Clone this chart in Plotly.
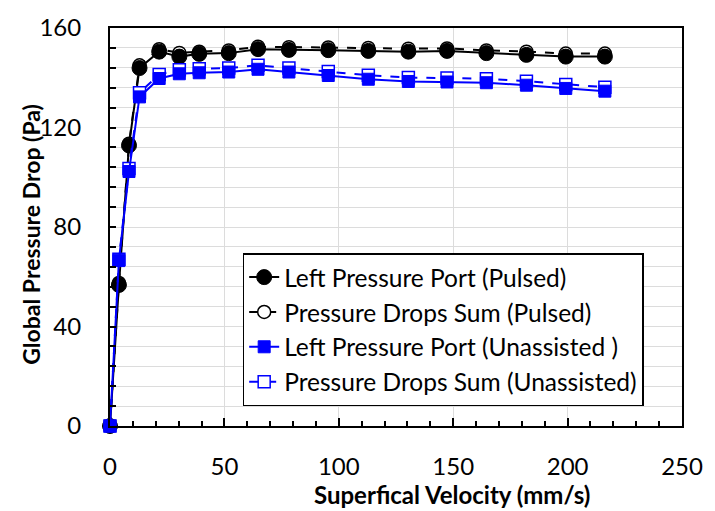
import plotly.graph_objects as go

velocity = [0, 3.9, 8.3, 12.9, 21.5, 30.3, 39.0, 51.9, 64.7, 78.2, 95.4, 112.9, 130.4, 147.3, 164.5, 182.0, 199.2, 216.3]
left_pulsed = [0, 56.7, 112.8, 143.9, 150.5, 148.5, 149.6, 149.9, 151.5, 151.2, 151.1, 150.8, 150.5, 150.8, 149.9, 149.2, 148.5, 148.5]
sum_pulsed = [0, 57.5, 113.5, 145.0, 151.5, 150.0, 150.5, 151.0, 152.5, 152.3, 152.2, 152.0, 151.7, 151.8, 151.0, 150.5, 149.7, 149.7]
left_unassisted = [0, 66.5, 102.3, 132.3, 139.7, 141.6, 142.0, 142.3, 143.4, 142.3, 140.9, 139.4, 138.5, 138.3, 138.0, 137.0, 135.7, 134.6]
sum_unassisted = [0, 67.0, 103.5, 134.0, 141.3, 143.2, 143.6, 143.9, 145.0, 143.9, 142.5, 141.0, 140.1, 139.9, 139.6, 138.6, 137.3, 136.2]

names = ["Left Pressure Port (Pulsed)", "Pressure Drops Sum (Pulsed)",
         "Left Pressure Port (Unassisted )", "Pressure Drops Sum (Unassisted)"]

FONT = "Lato"
BLUE = "#0000FF"
GRID = "#DCDCDC"

fig = go.Figure()
# draw "sum" traces first so the filled markers sit on top
fig.add_trace(go.Scatter(x=velocity, y=sum_pulsed, name=names[1], legendrank=2,
                         mode="lines+markers", cliponaxis=False,
                         line=dict(color="black", width=2, dash="dash"),
                         marker=dict(symbol="circle", size=13, color="white",
                                     line=dict(color="black", width=1.5))))
fig.add_trace(go.Scatter(x=velocity, y=left_pulsed, name=names[0], legendrank=1,
                         mode="lines+markers", cliponaxis=False,
                         line=dict(color="black", width=2),
                         marker=dict(symbol="circle", size=15, color="black",
                                     line=dict(color="black", width=1))))
fig.add_trace(go.Scatter(x=velocity, y=sum_unassisted, name=names[3], legendrank=4,
                         mode="lines+markers", cliponaxis=False,
                         line=dict(color=BLUE, width=2, dash="dash"),
                         marker=dict(symbol="square", size=12, color="white",
                                     line=dict(color=BLUE, width=1.5))))
fig.add_trace(go.Scatter(x=velocity, y=left_unassisted, name=names[2], legendrank=3,
                         mode="lines+markers", cliponaxis=False,
                         line=dict(color=BLUE, width=2),
                         marker=dict(symbol="square", size=12, color=BLUE,
                                     line=dict(color=BLUE, width=1))))

L, R, T, B = 110, 23, 23, 85
W, H = 715, 511
pw = W - L - R
ph = H - T - B

fig.update_layout(
    width=W, height=H,
    margin=dict(l=L, r=R, t=T, b=B, pad=0),
    paper_bgcolor="white", plot_bgcolor="white",
    font=dict(family=FONT, size=24, color="black"),
    showlegend=True,
    legend=dict(x=(245 - L) / pw, y=(426 - 251) / ph, xanchor="left", yanchor="top",
                bgcolor="white", bordercolor="black", borderwidth=1.5,
                font=dict(family=FONT, size=24.5, color="black"),
                itemwidth=30, traceorder="normal"),
    xaxis=dict(range=[0, 250], dtick=50, tick0=0,
               showline=True, linecolor="black", linewidth=2, mirror=True,
               ticks="inside", ticklen=8, tickwidth=1.5, tickcolor="black",
               showgrid=True, gridcolor=GRID, gridwidth=1,
               zeroline=False, ticklabelstandoff=18,
               tickfont=dict(family=FONT, size=24),
               minor=dict(dtick=10, tick0=0, ticks="inside", ticklen=5,
                          tickwidth=1.5, tickcolor="black", showgrid=False)),
    yaxis=dict(range=[0, 160], dtick=40, tick0=0,
               showline=True, linecolor="black", linewidth=2, mirror=True,
               ticks="inside", ticklen=6, tickwidth=1.5, tickcolor="black",
               showgrid=True, gridcolor=GRID, gridwidth=1,
               zeroline=False, ticklabelstandoff=22,
               tickfont=dict(family=FONT, size=24),
               minor=dict(dtick=8, tick0=0, ticks="inside", ticklen=6,
                          tickwidth=1.5, tickcolor="black", showgrid=True,
                          gridcolor=GRID, gridwidth=1)),
    annotations=[
        dict(text="<b>Superfical Velocity (mm/s)</b>", xref="paper", yref="paper",
             x=(458 - L) / pw, y=(426 - 495) / ph, xanchor="center", yanchor="middle",
             showarrow=False, font=dict(family=FONT, size=24, color="black")),
        dict(text="<b>Global Pressure Drop (Pa)</b>", xref="paper", yref="paper",
             x=(30 - L) / pw, y=(426 - 232) / ph, xanchor="center", yanchor="middle",
             textangle=-90, showarrow=False,
             font=dict(family=FONT, size=23, color="black")),
    ],
)

fig.write_html("out.html")
